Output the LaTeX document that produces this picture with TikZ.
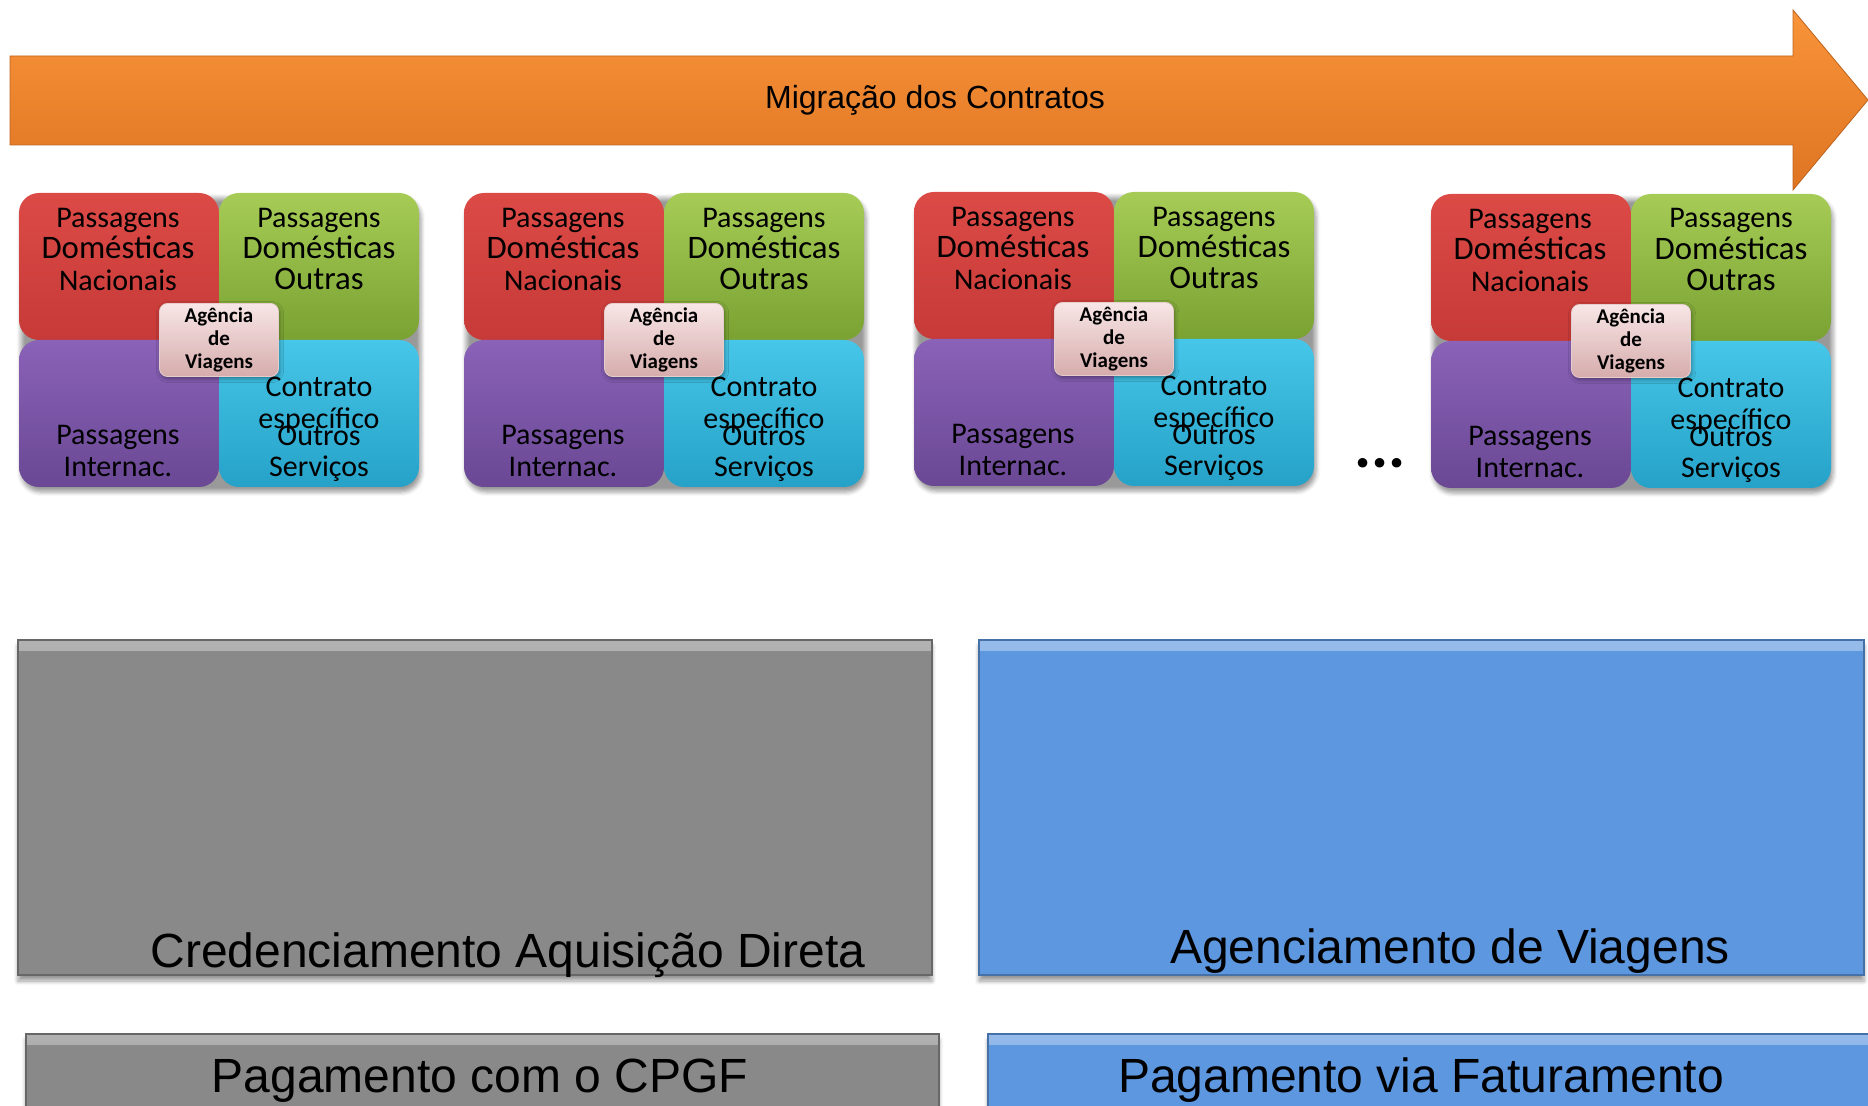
\documentclass[tikz,border=0pt]{standalone}
\usepackage{fontspec}
\setmainfont{Liberation Sans}
\newfontfamily\calfont{Carlito}
\usetikzlibrary{shadows.blur}

\definecolor{arrowtop}{RGB}{249,148,58}
\definecolor{arrowbot}{RGB}{222,116,34}
\definecolor{redtop}{RGB}{220,74,70}
\definecolor{redbot}{RGB}{176,42,42}
\definecolor{greentop}{RGB}{166,204,86}
\definecolor{greenbot}{RGB}{122,162,50}
\definecolor{purptop}{RGB}{138,98,184}
\definecolor{purpbot}{RGB}{106,72,148}
\definecolor{cyantop}{RGB}{70,198,232}
\definecolor{cyanbot}{RGB}{38,162,200}
\definecolor{agtop}{RGB}{248,230,230}
\definecolor{agbot}{RGB}{214,172,172}
\definecolor{credgray}{RGB}{137,137,137}
\definecolor{agblue}{RGB}{93,151,223}

\tikzset{
  quadblock/.style={rounded corners=10pt, minimum width=200pt, minimum height=147pt,
    inner sep=0pt, blur shadow={shadow xshift=1pt, shadow yshift=-2.5pt},
    path picture={
      \shade[top color=redtop, bottom color=redbot] (path picture bounding box.north west) rectangle (path picture bounding box.center);
      \shade[top color=greentop, bottom color=greenbot] (path picture bounding box.north east) rectangle (path picture bounding box.center);
      \shade[top color=purptop, bottom color=purpbot] (path picture bounding box.south west) rectangle (path picture bounding box.center);
      \shade[top color=cyantop, bottom color=cyanbot] (path picture bounding box.south east) rectangle (path picture bounding box.center);
    }},
  quadtext/.style={align=center, inner sep=0pt,
    font=\calfont\fontsize{15pt}{15.75pt}\selectfont},
  agbox/.style={rounded corners=4pt, minimum width=59.5pt, minimum height=36.5pt,
    inner sep=0pt, align=center, top color=agtop, bottom color=agbot,
    draw=agbot!60!white, line width=0.4pt, blur shadow={shadow xshift=0.5pt, shadow yshift=-1pt},
    font=\calfont\bfseries\fontsize{10.5pt}{11.5pt}\selectfont},
  bevelbox/.style={fill=#1, draw=#1!75!black, line width=0.6pt, inner sep=0pt,
    blur shadow={shadow xshift=0pt, shadow yshift=-3pt},
    path picture={
      \shade[top color=#1!65!white, bottom color=#1] (path picture bounding box.north west) rectangle ([yshift=-5pt]path picture bounding box.north east);
    }},
  bigtext/.style={font=\fontsize{24pt}{28pt}\selectfont, inner sep=0pt, anchor=base}
}

\newcommand{\dom}[1]{{\fontsize{16.4pt}{15.75pt}\selectfont #1}}

\begin{document}
\begin{tikzpicture}[x=0.5pt, y=-0.5pt]
\useasboundingbox (0,0) rectangle (1868,1106);

% migration arrow
\shade[top color=arrowtop, bottom color=arrowbot, draw=arrowbot!85!black, line width=0.4pt]
  (10,56) -- (1793,56) -- (1793,10) -- (1868,100) -- (1793,190) -- (1793,145) -- (10,145) -- cycle;
\node[font=\fontsize{16pt}{19pt}\selectfont, inner sep=0pt, anchor=base] (mig) at (935,109) {Migração dos Contratos};

% contract blocks
\foreach \bx/\by/\bn in {219/340/b1, 664/340/b2, 1114/339/b3, 1631/341/b4}{
  \node[quadblock] (\bn) at (\bx,\by) {};
  \node[quadtext] (\bn-tl) at ([shift={(-101,-91)}]\bn.center) {Passagens\\\dom{Domésticas}\\Nacionais};
  \node[quadtext] (\bn-tr) at ([shift={(100,-91)}]\bn.center) {Passagens\\\dom{Domésticas}\\\dom{Outras}};
  \node[quadtext] (\bn-bl) at ([shift={(-101,111)}]\bn.center) {Passagens\\Internac.};
  \node[quadtext] (\bn-ct) at ([shift={(100,65)}]\bn.center) {Contrato\\específico};
  \node[quadtext] (\bn-br) at ([shift={(100,114)}]\bn.center) {Outros\\Serviços};
  \node[agbox] (\bn-ag) at (\bn.center) {Agência\\de\\Viagens};
}
\node[font=\calfont\bfseries\fontsize{32pt}{36pt}\selectfont, inner sep=0pt, anchor=base] (dots) at (1380,468) {...};

% bottom boxes
\node[bevelbox=credgray, minimum width=457pt, minimum height=167.5pt] (cred) at (475,807.5) {};
\node[bevelbox=agblue, minimum width=442.5pt, minimum height=167.5pt] (agenc) at (1421.5,807.5) {};
\node[bigtext] (credtxt) at (508,967) {Credenciamento Aquisição Direta};
\node[bigtext] (agtxt) at (1450,963) {Agenciamento de Viagens};

\node[bevelbox=credgray, minimum width=456.5pt, minimum height=48pt] (cpgf) at (482.5,1082) {};
\node[bevelbox=agblue, minimum width=446pt, minimum height=48pt] (fat) at (1434,1082) {};
\node[bigtext] (cpgftxt) at (480,1092) {Pagamento com o CPGF};
\node[bigtext] (fattxt) at (1421,1092) {Pagamento via Faturamento};
\end{tikzpicture}
\end{document}
